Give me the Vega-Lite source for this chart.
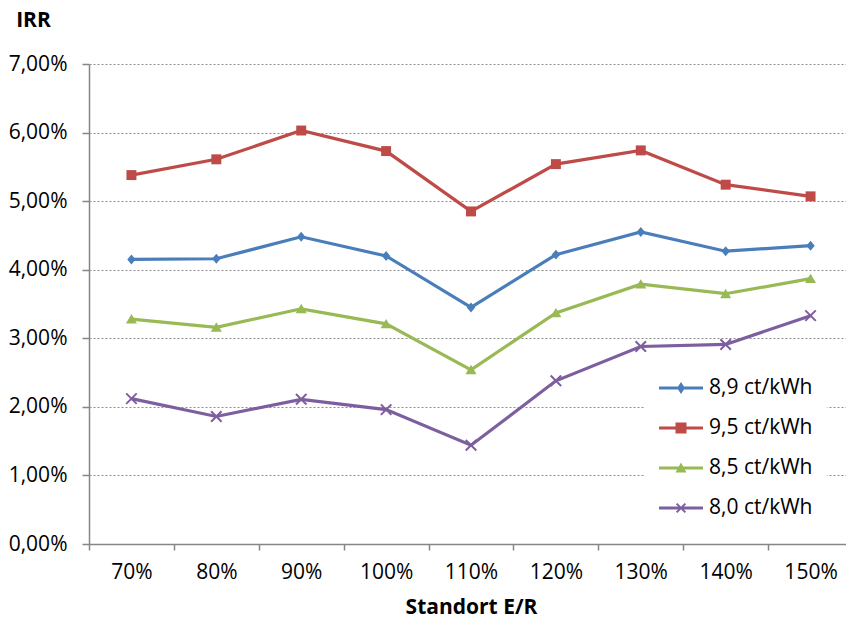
{
  "$schema": "https://vega.github.io/schema/vega-lite/v6.json",
  "width": 757,
  "height": 480,
  "autosize": {"type": "none"},
  "padding": {"left": 89, "top": 64, "right": 0, "bottom": 75},
  "background": "white",
  "config": {
    "view": {"stroke": null},
    "font": "Open Sans",
    "axis": {"labelFont": "Open Sans", "titleFont": "Open Sans", "labelColor": "black", "titleColor": "black"}
  },
  "data": {
    "values": [
      {"standort": "70%", "tarif": "8,9 ct/kWh", "irr": 4.15},
      {"standort": "80%", "tarif": "8,9 ct/kWh", "irr": 4.16},
      {"standort": "90%", "tarif": "8,9 ct/kWh", "irr": 4.48},
      {"standort": "100%", "tarif": "8,9 ct/kWh", "irr": 4.20},
      {"standort": "110%", "tarif": "8,9 ct/kWh", "irr": 3.45},
      {"standort": "120%", "tarif": "8,9 ct/kWh", "irr": 4.22},
      {"standort": "130%", "tarif": "8,9 ct/kWh", "irr": 4.55},
      {"standort": "140%", "tarif": "8,9 ct/kWh", "irr": 4.27},
      {"standort": "150%", "tarif": "8,9 ct/kWh", "irr": 4.35},
      {"standort": "70%", "tarif": "9,5 ct/kWh", "irr": 5.38},
      {"standort": "80%", "tarif": "9,5 ct/kWh", "irr": 5.61},
      {"standort": "90%", "tarif": "9,5 ct/kWh", "irr": 6.03},
      {"standort": "100%", "tarif": "9,5 ct/kWh", "irr": 5.73},
      {"standort": "110%", "tarif": "9,5 ct/kWh", "irr": 4.85},
      {"standort": "120%", "tarif": "9,5 ct/kWh", "irr": 5.54},
      {"standort": "130%", "tarif": "9,5 ct/kWh", "irr": 5.74},
      {"standort": "140%", "tarif": "9,5 ct/kWh", "irr": 5.24},
      {"standort": "150%", "tarif": "9,5 ct/kWh", "irr": 5.07},
      {"standort": "70%", "tarif": "8,5 ct/kWh", "irr": 3.28},
      {"standort": "80%", "tarif": "8,5 ct/kWh", "irr": 3.16},
      {"standort": "90%", "tarif": "8,5 ct/kWh", "irr": 3.43},
      {"standort": "100%", "tarif": "8,5 ct/kWh", "irr": 3.21},
      {"standort": "110%", "tarif": "8,5 ct/kWh", "irr": 2.54},
      {"standort": "120%", "tarif": "8,5 ct/kWh", "irr": 3.37},
      {"standort": "130%", "tarif": "8,5 ct/kWh", "irr": 3.79},
      {"standort": "140%", "tarif": "8,5 ct/kWh", "irr": 3.65},
      {"standort": "150%", "tarif": "8,5 ct/kWh", "irr": 3.87},
      {"standort": "70%", "tarif": "8,0 ct/kWh", "irr": 2.12},
      {"standort": "80%", "tarif": "8,0 ct/kWh", "irr": 1.86},
      {"standort": "90%", "tarif": "8,0 ct/kWh", "irr": 2.11},
      {"standort": "100%", "tarif": "8,0 ct/kWh", "irr": 1.96},
      {"standort": "110%", "tarif": "8,0 ct/kWh", "irr": 1.44},
      {"standort": "120%", "tarif": "8,0 ct/kWh", "irr": 2.38},
      {"standort": "130%", "tarif": "8,0 ct/kWh", "irr": 2.88},
      {"standort": "140%", "tarif": "8,0 ct/kWh", "irr": 2.91},
      {"standort": "150%", "tarif": "8,0 ct/kWh", "irr": 3.33}
    ]
  },
  "layer": [
    {
      "mark": {"type": "line", "strokeWidth": 3.2},
      "encoding": {
        "x": {
          "field": "standort", "type": "ordinal", "bandPosition": 0.5,
          "sort": ["70%", "80%", "90%", "100%", "110%", "120%", "130%", "140%", "150%"],
          "scale": {"type": "band", "paddingInner": 0, "paddingOuter": 0, "range": [0, 764]},
          "axis": {
            "title": "Standort E/R",
            "titleFontWeight": "bold", "titleFontSize": 21,
            "titleBaseline": "alphabetic", "titleY": 69,
            "labelFontSize": 21, "labelAngle": 0, "labelPadding": 11,
            "tickBand": "extent", "tickSize": 6, "tickColor": "#868686", "tickWidth": 1.5,
            "domainColor": "#868686", "domainWidth": 1.5,
            "grid": false
          }
        },
        "y": {
          "field": "irr", "type": "quantitative",
          "scale": {"domain": [0, 7], "nice": false, "zero": true},
          "axis": {
            "title": "IRR", "titleAngle": 0, "titleFontWeight": "bold", "titleFontSize": 21,
            "titleAlign": "center", "titleBaseline": "middle", "titleX": -56, "titleY": -44,
            "values": [0, 1, 2, 3, 4, 5, 6, 7],
            "labelExpr": "replace(format(datum.value, '.2f'), '.', ',') + '%'",
            "labelFontSize": 21, "labelPadding": 15,
            "tickSize": 7, "tickColor": "#868686", "tickWidth": 1.5,
            "domainColor": "#868686", "domainWidth": 1.5,
            "grid": true, "gridColor": "#8c8c8c", "gridDash": [2, 2], "gridWidth": 1
          }
        },
        "color": {
          "field": "tarif", "type": "nominal", "legend": null,
          "scale": {"domain": ["8,9 ct/kWh", "9,5 ct/kWh", "8,5 ct/kWh", "8,0 ct/kWh"], "range": ["#4a7ebb", "#be4b48", "#98b954", "#7d5fa0"]}
        },
        "order": {"value": null}
      }
    },
    {
      "mark": {"type": "point", "filled": true, "opacity": 1, "size": 110, "strokeWidth": 0},
      "encoding": {
        "x": {
          "field": "standort", "type": "ordinal", "bandPosition": 0.5,
          "sort": ["70%", "80%", "90%", "100%", "110%", "120%", "130%", "140%", "150%"]
        },
        "y": {"field": "irr", "type": "quantitative"},
        "color": {
          "field": "tarif", "type": "nominal", "legend": null,
          "scale": {"domain": ["8,9 ct/kWh", "9,5 ct/kWh", "8,5 ct/kWh", "8,0 ct/kWh"], "range": ["#4a7ebb", "#be4b48", "#98b954", "#7d5fa0"]}
        },
        "shape": {
          "field": "tarif", "type": "nominal", "legend": null,
          "scale": {
            "domain": ["8,9 ct/kWh", "9,5 ct/kWh", "8,5 ct/kWh", "8,0 ct/kWh"],
            "range": [
              "M0,-0.95L0.8,0L0,0.95L-0.8,0Z",
              "M-0.95,-0.95H0.95V0.95H-0.95Z",
              "M0,-0.95L1.05,0.85H-1.05Z",
              "M-0.865,-1.135L1.135,0.865L0.865,1.135L-1.135,-0.865Z M-0.865,1.135L-1.135,0.865L0.865,-1.135L1.135,-0.865Z"
            ]
          }
        }
      }
    },
    {
      "transform": [{"filter": "false"}],
      "mark": {"type": "point", "filled": true, "opacity": 1},
      "encoding": {
        "color": {
          "field": "tarif", "type": "nominal",
          "scale": {"domain": ["8,9 ct/kWh", "9,5 ct/kWh", "8,5 ct/kWh", "8,0 ct/kWh"], "range": ["#4a7ebb", "#be4b48", "#98b954", "#7d5fa0"]},
          "legend": {
            "title": null, "orient": "none", "legendX": 556, "legendY": 288,
            "fillColor": "white", "padding": 14,
            "symbolSize": 1936, "symbolStrokeWidth": 0, "symbolOpacity": 1,
            "labelFont": "Open Sans", "labelFontSize": 21, "labelColor": "black", "labelOffset": 6,
            "rowPadding": 8
          }
        },
        "shape": {
          "field": "tarif", "type": "nominal",
          "scale": {
            "domain": ["8,9 ct/kWh", "9,5 ct/kWh", "8,5 ct/kWh", "8,0 ct/kWh"],
            "range": [
              "M-1,-0.07H1V0.07H-1Z M0,-0.27L0.18,0L0,0.27L-0.18,0Z",
              "M-1,-0.07H1V0.07H-1Z M-0.25,-0.25H0.25V0.25H-0.25Z",
              "M-1,-0.07H1V0.07H-1Z M0,-0.25L0.25,0.2H-0.25Z",
              "M-1,-0.07H1V0.07H-1Z M-0.168,-0.232L0.232,0.168L0.168,0.232L-0.232,-0.168Z M-0.168,0.232L-0.232,0.168L0.168,-0.232L0.232,-0.168Z"
            ]
          },
          "legend": {
            "title": null, "orient": "none", "legendX": 556, "legendY": 288,
            "fillColor": "white", "padding": 14,
            "symbolSize": 1936, "symbolStrokeWidth": 0, "symbolOpacity": 1,
            "labelFont": "Open Sans", "labelFontSize": 21, "labelColor": "black", "labelOffset": 6,
            "rowPadding": 8
          }
        }
      }
    }
  ],
  "resolve": {"scale": {"color": "independent", "shape": "independent"}}
}
